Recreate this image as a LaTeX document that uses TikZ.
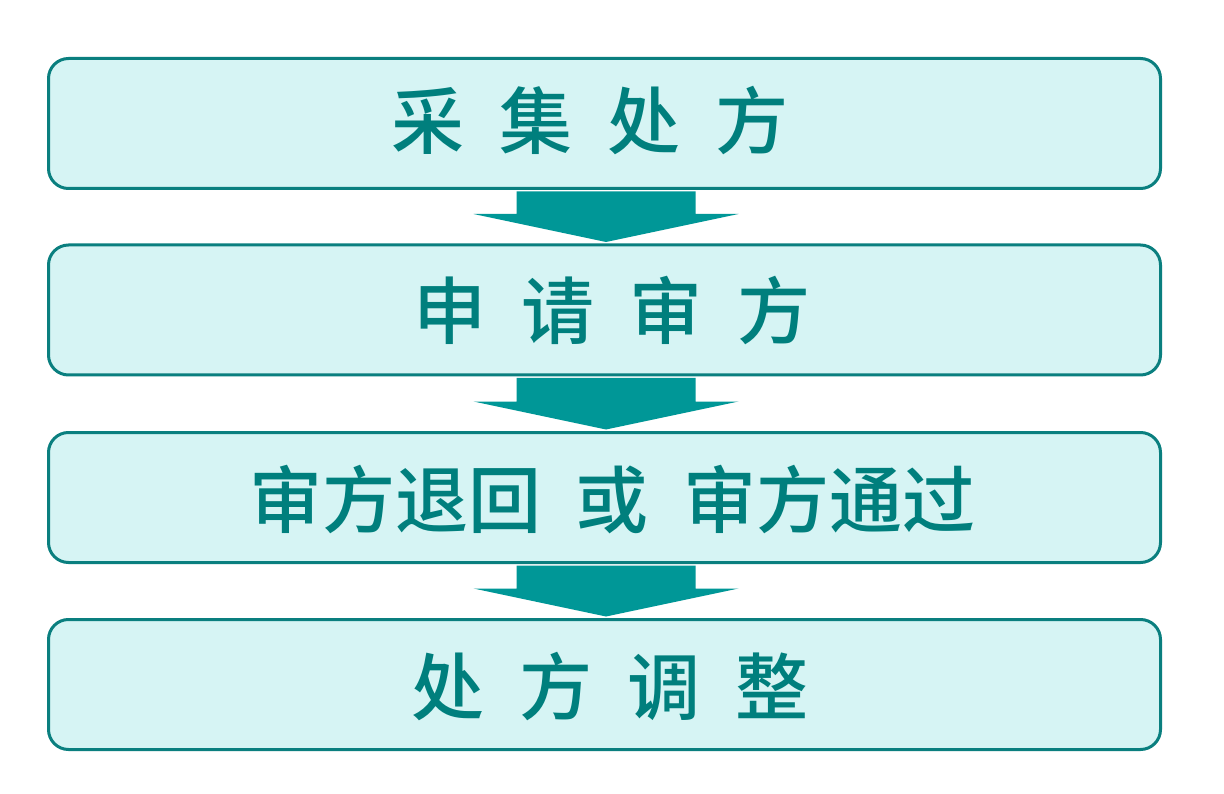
\documentclass[tikz,border=0pt]{standalone}
\usepackage{fontspec}
\newfontfamily\cjk[BoldFont={Noto Sans CJK SC Medium}]{Noto Sans CJK SC}
\usetikzlibrary{calc}
\definecolor{boxfill}{HTML}{D6F4F4}
\definecolor{boxline}{HTML}{0A7F7F}
\definecolor{arrowfill}{HTML}{009797}
\definecolor{txt}{HTML}{007F7D}
\newcommand\kg{\hspace{35pt}}
\newcommand\flowarrow[2]{%
  \fill[flow] ($(#1.south)+(-88,1.5)$) -- ($(#1.south)+(91,1.5)$)
    -- ($(#2.north)+(91,-29.5)$) -- ($(#2.north)+(134,-29.5)$)
    -- ($(#2.north)+(1.5,-1.5)$) -- ($(#2.north)+(-131,-29.5)$)
    -- ($(#2.north)+(-88,-29.5)$) -- cycle;}
\begin{document}
\begin{tikzpicture}[x=1pt,y=-1pt,
  box/.style={draw=boxline, line width=3pt, fill=boxfill, rounded corners=20pt,
    minimum width=1112pt, minimum height=130pt, inner sep=0pt},
  lbl/.style={anchor=base, text=txt, inner sep=0pt,
    font=\cjk\bfseries\fontsize{73}{80}\selectfont},
  flow/.style={fill=arrowfill}]
\useasboundingbox (0,0) rectangle (1224,794);
\fill[white] (0,0) rectangle (1224,794);
\node[box] (b1) at (604.5,123.5) {};
\node[box] (b2) at (604.5,310) {};
\node[box] (b3) at (604.5,497.5) {};
\node[box] (b4) at (604.5,684.5) {};
\node[lbl] (t1) at (590,149) {采\kg 集\kg 处\kg 方};
\node[lbl] (t2) at (612,339) {申\kg 请\kg 审\kg 方};
\node[lbl] (t3) at (612.5,527) {审方退回\kg 或\kg 审方通过};
\node[lbl] (t4) at (610,714) {处\kg 方\kg 调\kg 整};
\flowarrow{b1}{b2}
\flowarrow{b2}{b3}
\flowarrow{b3}{b4}
\end{tikzpicture}
\end{document}
